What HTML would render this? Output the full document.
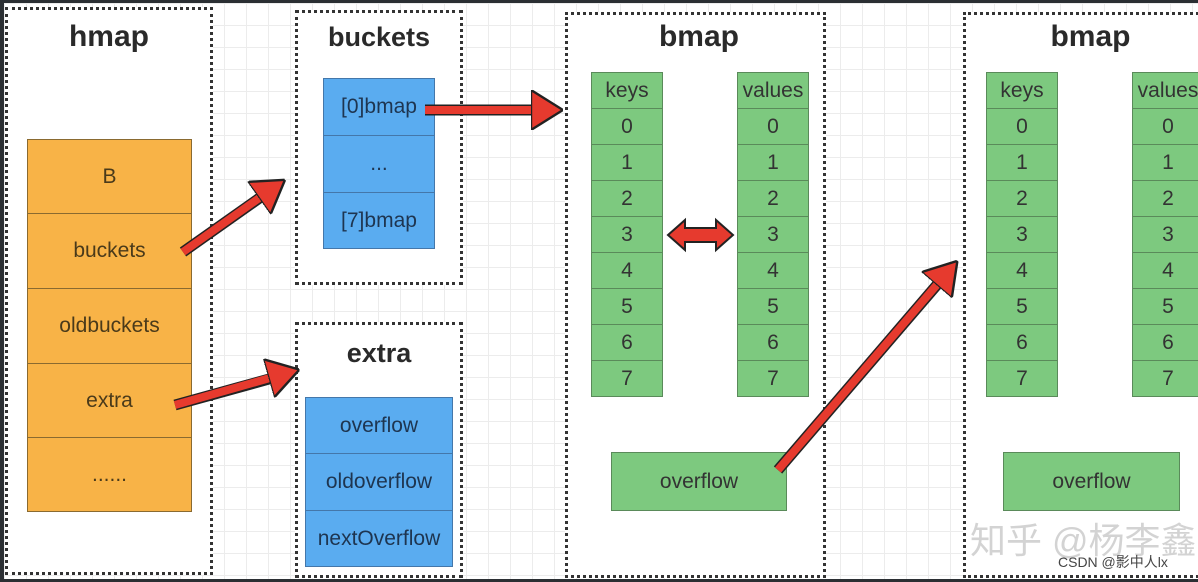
<!DOCTYPE html>
<html><head><meta charset="utf-8"><style>
*{margin:0;padding:0;box-sizing:border-box}
body{width:1198px;height:582px;overflow:hidden;background:#2b2f33;position:relative;font-family:"Liberation Sans","Noto Sans CJK SC",sans-serif}
#bg{position:absolute;left:4px;top:3px;width:1194px;height:576px;background-color:#fff;
background-image:linear-gradient(#ececec 1px,transparent 1px),linear-gradient(90deg,#ececec 1px,transparent 1px);background-size:22px 22px}
.box{position:absolute;border:3px dotted #333;background:#fff}
.t{position:absolute;font-weight:bold;font-size:30px;color:#2a2a2a;text-align:center}
.c{position:absolute;display:flex;align-items:center;justify-content:center;color:#333;border:1px solid #666}
.o{background:#f8b347;font-size:21px;color:#4a3a1a;border-color:#8a6a30}
.b{background:#5aacf0;font-size:21px;color:#1e3550;border-color:#4477aa}
.g{background:#7dc97f;font-size:21px;color:#333;border-color:#5a8a5a}
</style></head><body>
<div id="bg"></div>
<div class="box" style="left:5px;top:7px;width:208px;height:568px"></div>
<div class="t" style="left:5px;top:20px;width:208px">hmap</div>
<div class="c o" style="left:27px;top:139px;width:165px;height:75px">B</div>
<div class="c o" style="left:27px;top:213px;width:165px;height:76px">buckets</div>
<div class="c o" style="left:27px;top:288px;width:165px;height:76px">oldbuckets</div>
<div class="c o" style="left:27px;top:363px;width:165px;height:75px">extra</div>
<div class="c o" style="left:27px;top:437px;width:165px;height:75px">......</div>

<div class="box" style="left:295px;top:10px;width:168px;height:275px"></div>
<div class="t" style="left:295px;top:22px;width:168px;font-size:27px">buckets</div>
<div class="c b" style="left:323px;top:78px;width:112px;height:58px">[0]bmap</div>
<div class="c b" style="left:323px;top:135px;width:112px;height:58px">...</div>
<div class="c b" style="left:323px;top:192px;width:112px;height:57px">[7]bmap</div>

<div class="box" style="left:295px;top:322px;width:168px;height:256px"></div>
<div class="t" style="left:295px;top:338px;width:168px;font-size:27px">extra</div>
<div class="c b" style="left:305px;top:397px;width:148px;height:57px">overflow</div>
<div class="c b" style="left:305px;top:453px;width:148px;height:58px">oldoverflow</div>
<div class="c b" style="left:305px;top:510px;width:148px;height:57px">nextOverflow</div>

<div class="box" style="left:565px;top:12px;width:261px;height:566px"></div>
<div class="t" style="left:565px;top:20px;width:268px">bmap</div>
<div class="box" style="left:963px;top:12px;width:260px;height:566px"></div>
<div class="t" style="left:963px;top:20px;width:255px">bmap</div>

<div id="cols"></div>
<script>
var h='';
[[591,737],[986,1132]].forEach(function(p){
 p.forEach(function(x,i){
  var lab=i?'values':'keys';
  h+='<div class="c g" style="left:'+x+'px;top:72px;width:72px;height:37px">'+lab+'</div>';
  for(var k=0;k<8;k++)h+='<div class="c g" style="left:'+x+'px;top:'+(108+k*36)+'px;width:72px;height:37px">'+k+'</div>';
 });
});
h+='<div class="c g" style="left:611px;top:452px;width:176px;height:59px">overflow</div>';
h+='<div class="c g" style="left:1003px;top:452px;width:177px;height:59px">overflow</div>';
document.getElementById('cols').innerHTML=h;
</script>
<div style="position:absolute;left:970px;top:512px;font-size:36px;color:rgba(200,200,200,0.8);white-space:nowrap">知乎 @杨李鑫</div>
<div style="position:absolute;left:1058px;top:552px;font-size:14px;color:#444;white-space:nowrap">CSDN @影中人lx</div>
<svg style="position:absolute;left:0;top:0" width="1198" height="582">
<defs><marker id="a" markerWidth="4" markerHeight="5" refX="2" refY="2.5" orient="auto" markerUnits="strokeWidth"><path d="M0,0 L4,2.5 L0,5z" fill="#e63a2e" stroke="#222" stroke-width="0.3"/></marker></defs>
<g stroke="#222" stroke-width="11" fill="none" stroke-linecap="butt">
<line x1="183" y1="252" x2="268" y2="192"/><line x1="175" y1="405" x2="280" y2="376"/>
<line x1="425" y1="110" x2="540" y2="110"/><line x1="778" y1="470" x2="942" y2="279"/>
<line x1="680" y1="235" x2="722" y2="235"/></g>
<g stroke="#e63a2e" stroke-width="8" fill="none" marker-end="url(#a)">
<line x1="183" y1="252" x2="272" y2="189"/><line x1="175" y1="405" x2="284" y2="374"/>
<line x1="425" y1="110" x2="547" y2="110"/><line x1="778" y1="470" x2="947" y2="273"/>
</g>
<path d="M668,235 L685,220 L685,228 L716,228 L716,220 L733,235 L716,250 L716,242 L685,242 L685,250z" fill="#e63a2e" stroke="#222" stroke-width="2"/>
</svg>
</body></html>
